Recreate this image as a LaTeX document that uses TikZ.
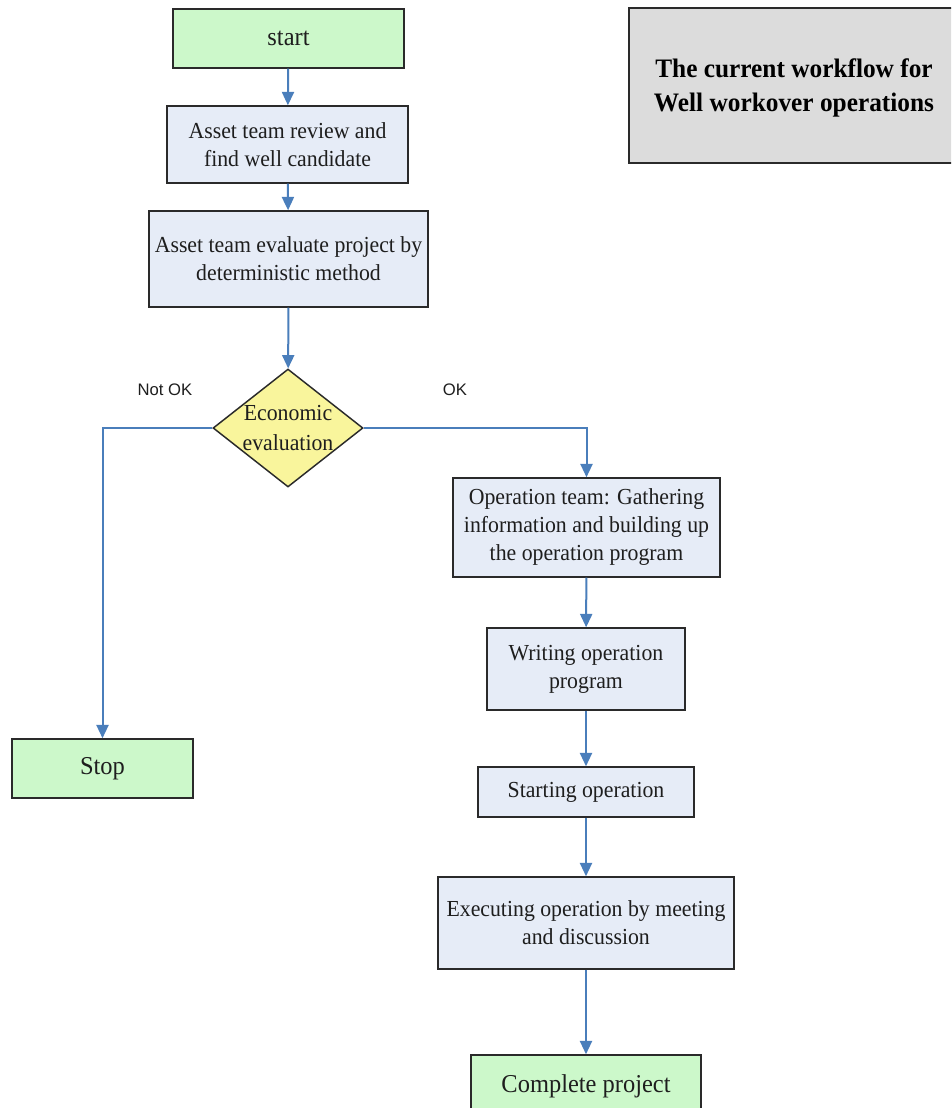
\documentclass[tikz,border=0pt]{standalone}
\usepackage{fontspec}
\setmainfont{Liberation Serif}[FakeStretch=0.95]
\newfontfamily\labelfont{Liberation Sans}
\usetikzlibrary{shapes.geometric,arrows.meta}

\definecolor{boxline}{HTML}{2A2A2A}
\definecolor{textcol}{HTML}{1E1E1E}
\definecolor{stepfill}{HTML}{E6ECF7}
\definecolor{endfill}{HTML}{CCF8CA}
\definecolor{decfill}{HTML}{F9F59C}
\definecolor{titlefill}{HTML}{DCDCDC}
\definecolor{flowcol}{HTML}{4A7EBB}

\begin{document}
\begin{tikzpicture}[x=0.75pt,y=-0.75pt,
  sz/.style 2 args={minimum width=#1*0.75pt, minimum height=#2*0.75pt},
  box/.style={draw=boxline, line width=1.1pt, inner sep=0pt, align=center, text=textcol},
  stepbox/.style={box, fill=stepfill, font=\fontsize{17.2}{21}\selectfont},
  endbox/.style={box, fill=endfill, font=\fontsize{19.3}{23}\selectfont},
  decbox/.style={box, diamond, fill=decfill},
  dectext/.style={align=center, text=textcol, inner sep=0pt, font=\fontsize{17.2}{22}\selectfont},
  titlebox/.style={box, fill=titlefill},
  titletext/.style={align=center, text=black, inner sep=0pt, font=\bfseries\fontsize{20}{25}\selectfont},
  branch/.style={text=textcol, inner sep=0pt, font=\labelfont\fontsize{12.5}{15}\selectfont},
  flow/.style={draw=flowcol, line width=1.5pt, -{Triangle[width=9pt,length=10pt]}}]

\useasboundingbox (0,0) rectangle (951,1108);
\fill[white] (0,0) rectangle (951,1108);
\clip (0,0) rectangle (951,1108);

% title panel
\node[titlebox, sz={330}{155}] (title) at (794,85.5) {};
\node[titletext] (titletxt) at (794,88) {The current workflow for\\Well workover operations};

% main column
\node[endbox, sz={231}{59}] (start) at (288.5,38.5) {start};
\node[stepbox, sz={241}{77}] (review) at (287.5,144.5) {Asset team review and\\find well candidate};
\node[stepbox, sz={279}{96}] (evaluate) at (288.5,259) {Asset team evaluate project by\\deterministic method};
\node[decbox, sz={150}{118}] (dec) at (288,428) {};
\node[dectext] (dectxt) at (dec.center) {Economic\\evaluation};

% rejected branch
\node[endbox, sz={181}{59}] (stop) at (102.5,768.5) {Stop};

% accepted branch
\node[stepbox, sz={267}{99}] (gather) at (586.5,527.5) {Operation team: Gathering\\information and building up\\the operation program};
\node[stepbox, sz={198}{82}] (write) at (586,669) {Writing operation\\program};
\node[stepbox, sz={216}{50}] (begin) at (586,792) {Starting operation};
\node[stepbox, sz={296}{92}] (execute) at (586,923) {Executing operation by meeting\\and discussion};
\node[endbox, sz={230}{62}] (complete) at (586,1086) {Complete project};

% branch labels
\node[branch] (notok) at (165,390) {Not OK};
\node[branch] (ok) at (455,390) {OK};

% connectors
\draw[flow] (start) -- (review);
\draw[flow] (review) -- (evaluate);
\draw[flow] (evaluate) -- (dec);
\draw[flow] (dec.west) -| (stop.north);
\draw[flow] (dec.east) -| (gather.north);
\draw[flow] (gather) -- (write);
\draw[flow] (write) -- (begin);
\draw[flow] (begin) -- (execute);
\draw[flow] (execute) -- (complete);
\end{tikzpicture}
\end{document}
